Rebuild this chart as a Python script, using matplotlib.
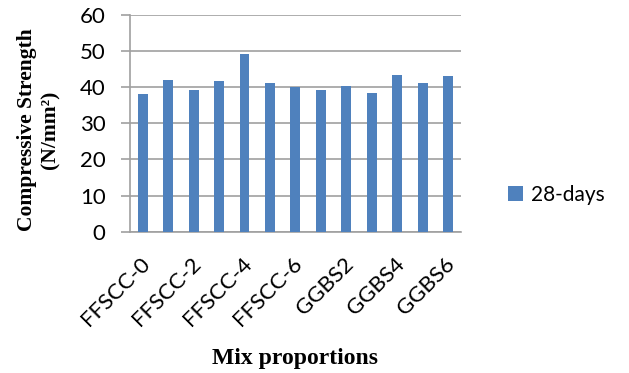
import matplotlib
matplotlib.use("Agg")
import matplotlib.pyplot as plt
import matplotlib.transforms as mtransforms
import numpy as np

categories = ["FFSCC-0", "FFSCC-1", "FFSCC-2", "FFSCC-3", "FFSCC-4", "FFSCC-5", "FFSCC-6",
              "GGBS1", "GGBS2", "GGBS3", "GGBS4", "GGBS5", "GGBS6"]
days28 = [38.0, 42.0, 39.1, 41.8, 49.2, 41.3, 40.2, 39.1, 40.3, 38.3, 43.3, 41.2, 43.0]
yticks = [0, 10, 20, 30, 40, 50, 60]

SANS = ["Lato", "DejaVu Sans"]
fig = plt.figure(figsize=(6.29, 3.73), dpi=100)
ax = fig.add_axes([130/629, 1-231.7/373, 330.7/629, 216.7/373])

x = np.arange(len(categories))
bars = ax.bar(x, days28, width=0.39, color="#4F81BD", label="28-days", zorder=3)

ax.set_xlim(-0.5, len(categories) - 0.5)
ax.set_ylim(0, 60)
ax.set_yticks(yticks)
ax.yaxis.grid(True, color="#A0A0A0", linewidth=1.2, zorder=0)
ax.set_axisbelow(True)
for s in ["top", "right"]:
    ax.spines[s].set_visible(False)
for s in ["left", "bottom"]:
    ax.spines[s].set_color("#A0A0A0")
    ax.spines[s].set_linewidth(1.2)
ax.tick_params(axis="y", length=6.5, color="#A0A0A0", width=1.2, labelsize=16, pad=11)
ax.tick_params(axis="x", length=0, labelsize=16, pad=21)
for lab in ax.get_yticklabels():
    lab.set_family(SANS)

ax.set_xticks(x[::2])
ax.set_xticklabels(categories[::2], rotation=45, ha="right", va="center",
                   rotation_mode="anchor", family=SANS)
shift = mtransforms.ScaledTranslation(4/100, 0, fig.dpi_scale_trans)
for lab in ax.get_xticklabels():
    lab.set_transform(lab.get_transform() + shift)

fig.text(39/629, 1-130/373, "Compressive Strength\n(N/mm²)", family="Liberation Serif",
         fontweight="bold", fontsize=15.5, linespacing=1.2, rotation=90,
         ha="center", va="center", multialignment="center")
fig.text(295/629, 1-364/373, "Mix proportions", family="Liberation Serif", fontweight="bold",
         fontsize=17, ha="center", va="baseline")

leg = fig.legend(handles=[bars], labels=["28-days"], loc="center left",
                 bbox_to_anchor=(489/629, 1-195/373), frameon=False,
                 prop={"family": SANS, "size": 15},
                 handlelength=0.75, handleheight=0.75, handletextpad=0.35)

fig.savefig("out.png", dpi=100)
